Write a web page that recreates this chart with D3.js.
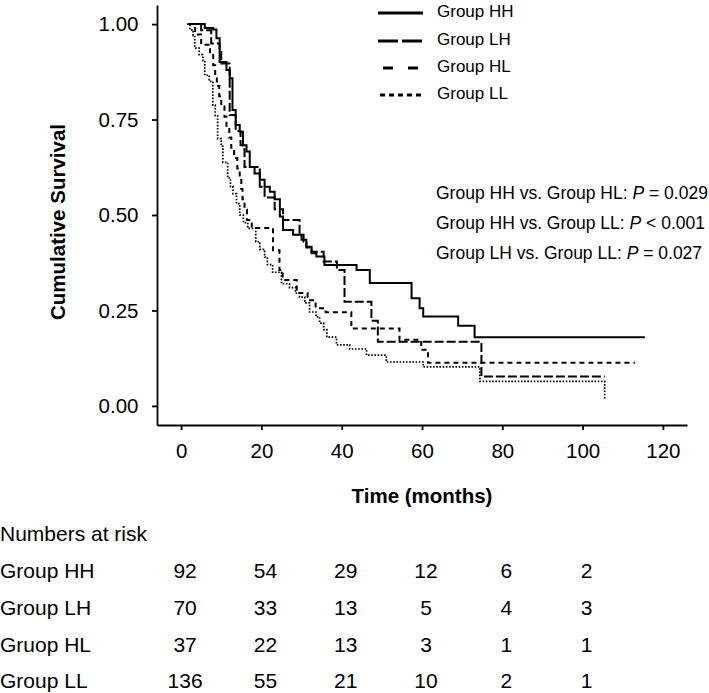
<!DOCTYPE html>
<html>
<head>
<meta charset="utf-8">
<script src="https://cdn.jsdelivr.net/npm/d3@7"></script>
<style>
  body { margin: 0; background: #fff; }
  svg { display: block; font-family: "Liberation Sans", Arial, Helvetica, sans-serif; }
</style>
</head>
<body>
<div id="chart"></div>
<script>
// survival curves: step times (months) and survival after each step
var hhTimes = [2, 5.9, 8.0, 8.8, 9.6, 11.3, 12.1, 12.8, 13.6, 14.6, 15.4, 16.3, 17.1, 18.3, 19.6, 20.8, 22.1, 23.3, 24.6, 25.4, 27.9, 30, 31.2, 32.5, 33.7, 35.7, 43.7, 47, 57.4, 59.4, 60.3, 69, 73.1];
var hhSurv  = [1, 0.99, 0.986, 0.963, 0.901, 0.88, 0.858, 0.775, 0.736, 0.718, 0.683, 0.666, 0.626, 0.609, 0.592, 0.574, 0.561, 0.541, 0.496, 0.461, 0.448, 0.435, 0.417, 0.40, 0.391, 0.369, 0.356, 0.322, 0.282, 0.256, 0.234, 0.21, 0.18];
var hhEnd = 115.5;

var lhTimes = [1.8, 5, 7.5, 9.6, 10, 12.1, 13.6, 14.8, 15.8, 19.6, 20.8, 23.3, 25.4, 29.5, 30.5, 31.2, 32.5, 35.5, 38.8, 40.7, 47.4, 49, 74.8];
var lhSurv  = [1, 0.984, 0.949, 0.927, 0.897, 0.762, 0.72, 0.683, 0.626, 0.574, 0.546, 0.515, 0.487, 0.448, 0.43, 0.415, 0.404, 0.378, 0.356, 0.273, 0.223, 0.168, 0.077];
var lhEnd = 105.5;

var hlTimes = [2, 3.5, 5, 7.2, 8, 8.5, 8.9, 9.5, 10, 10.8, 11.3, 12, 12.5, 13.2, 14, 14.6, 15, 15.3, 15.8, 16.4, 17.6, 22.9, 24.5, 25.3, 28.8, 31.5, 33.5, 36, 42.4, 54.4, 59.8, 61.5];
var hlSurv  = [1, 0.973, 0.946, 0.919, 0.892, 0.865, 0.838, 0.811, 0.784, 0.757, 0.73, 0.703, 0.676, 0.649, 0.622, 0.595, 0.568, 0.541, 0.514, 0.487, 0.466, 0.408, 0.356, 0.33, 0.296, 0.277, 0.256, 0.245, 0.203, 0.173, 0.147, 0.113];
var hlEnd = 113;

var llTimes = [1.5, 2.2, 3, 3.4, 4.5, 5.4, 5.9, 7, 7.9, 8.5, 9.1, 10, 10.4, 11.6, 12.3, 12.9, 13.8, 14.6, 15.5, 16.6, 18.6, 19.6, 20.8, 21.5, 22.8, 25, 27, 28.5, 29.5, 30.8, 32, 33.6, 34.5, 35.5, 36.3, 38.7, 42, 46.2, 51.1, 60.3, 74.4, 105.5];
var llSurv  = [1, 0.985, 0.97, 0.937, 0.92, 0.905, 0.866, 0.85, 0.788, 0.76, 0.70, 0.68, 0.638, 0.597, 0.575, 0.556, 0.53, 0.50, 0.48, 0.465, 0.43, 0.41, 0.39, 0.37, 0.35, 0.32, 0.31, 0.295, 0.285, 0.27, 0.246, 0.233, 0.217, 0.2, 0.18, 0.16, 0.149, 0.133, 0.115, 0.102, 0.064, 0.016];
var llEnd = 105.5;

var groupNames = ["Group HH", "Group LH", "Group HL", "Group LL"];
var xTicks = [0, 20, 40, 60, 80, 100, 120];
var yTicks = [0, 0.25, 0.5, 0.75, 1];

var pTexts = ["Group HH vs. Group HL: ", "Group HH vs. Group LL: ", "Group LH vs. Group LL: "];
var pValues = ["= 0.029", "< 0.001", "= 0.027"];

var riskLabels = ["Group HH", "Group LH", "Gruop HL", "Group LL"];
var riskTimes = [0, 20, 40, 60, 80, 100];
var riskHH = [92, 54, 29, 12, 6, 2];
var riskLH = [70, 33, 13, 5, 4, 3];
var riskHL = [37, 22, 13, 3, 1, 1];
var riskLL = [136, 55, 21, 10, 2, 1];

var W = 709, H = 693;
var svg = d3.select("#chart").append("svg")
    .attr("width", W)
    .attr("height", H);

var x = d3.scaleLinear().domain([-6, 126]).range([157, 687]);
var y = d3.scaleLinear().domain([-0.05, 1.05]).range([425, 5]);

// line styles per group (plot / legend)
var styles = [
    {dash: null, width: 2, legDash: null},
    {dash: "9,3", width: 2, legDash: "20,4"},
    {dash: "5,4", width: 2, legDash: "10,15"},
    {dash: "1.6,1.6", width: 1.7, legDash: "5,4"}
];

var curves = [
    {t: hhTimes, s: hhSurv, end: hhEnd},
    {t: lhTimes, s: lhSurv, end: lhEnd},
    {t: hlTimes, s: hlSurv, end: hlEnd},
    {t: llTimes, s: llSurv, end: llEnd}
];

var line = d3.line()
    .x(function(d) { return x(d[0]); })
    .y(function(d) { return y(d[1]); })
    .curve(d3.curveStepAfter);

curves.forEach(function(c, i) {
    var pts = c.t.map(function(t, j) { return [t, c.s[j]]; });
    pts.push([c.end, c.s[c.s.length - 1]]);
    svg.append("path")
        .attr("d", line(pts))
        .attr("fill", "none")
        .attr("stroke", "#000")
        .attr("stroke-width", styles[i].width)
        .attr("stroke-dasharray", styles[i].dash);
});

// axes
var yAxis = svg.append("g")
    .attr("transform", "translate(157,0)")
    .call(d3.axisLeft(y).tickValues(yTicks).tickFormat(d3.format(".2f"))
        .tickSize(5).tickSizeOuter(0).tickPadding(13.5));
var xAxis = svg.append("g")
    .attr("transform", "translate(0,425)")
    .call(d3.axisBottom(x).tickValues(xTicks).tickFormat(d3.format("d"))
        .tickSize(5).tickSizeOuter(0).tickPadding(13.5));

[yAxis, xAxis].forEach(function(a) {
    a.select(".domain").attr("stroke", "#000").attr("stroke-width", 1.8);
    a.selectAll(".tick line").attr("stroke", "#000").attr("stroke-width", 1.8);
    a.selectAll(".tick text")
        .attr("fill", "#000")
        .style("font-size", "20.5px")
        .style("font-family", "'Liberation Sans', Arial, sans-serif");
});

svg.append("text")
    .attr("transform", "translate(65,222) rotate(-90)")
    .attr("text-anchor", "middle")
    .style("font-size", "20.5px")
    .style("font-weight", "bold")
    .text("Cumulative Survival");

svg.append("text")
    .attr("x", x(60))
    .attr("y", 502.5)
    .attr("text-anchor", "middle")
    .style("font-size", "20.5px")
    .style("font-weight", "bold")
    .text("Time (months)");

// legend
var legY = [13, 41, 68, 95];
groupNames.forEach(function(name, i) {
    var x1 = 378, x2 = 423;
    if (i === 2) { x1 = 383; x2 = 418; }
    if (i === 3) { x1 = 380; x2 = 422; }
    svg.append("line")
        .attr("x1", x1).attr("x2", x2)
        .attr("y1", legY[i]).attr("y2", legY[i])
        .attr("stroke", "#000")
        .attr("stroke-width", 3)
        .attr("stroke-dasharray", styles[i].legDash);
    svg.append("text")
        .attr("x", 437)
        .attr("y", legY[i] + 3.5)
        .style("font-size", "17px")
        .text(name);
});

// p-values
pTexts.forEach(function(txt, i) {
    var t = svg.append("text")
        .attr("x", 436)
        .attr("y", 199 + i * 30)
        .style("font-size", "17.5px");
    t.append("tspan").text(txt);
    t.append("tspan").style("font-style", "italic").text("P");
    t.append("tspan").text(" " + pValues[i]);
});

// numbers at risk table
svg.append("text")
    .attr("x", 0)
    .attr("y", 541)
    .style("font-size", "21px")
    .text("Numbers at risk");

var riskRows = [riskHH, riskLH, riskHL, riskLL];
riskRows.forEach(function(row, i) {
    var yy = 578 + i * 36.8;
    svg.append("text")
        .attr("x", 0)
        .attr("y", yy)
        .style("font-size", "21px")
        .text(riskLabels[i]);
    row.forEach(function(v, j) {
        svg.append("text")
            .attr("x", x(riskTimes[j]) + 4)
            .attr("y", yy)
            .attr("text-anchor", "middle")
            .style("font-size", "21px")
            .text(v);
    });
});
</script>
</body>
</html>
